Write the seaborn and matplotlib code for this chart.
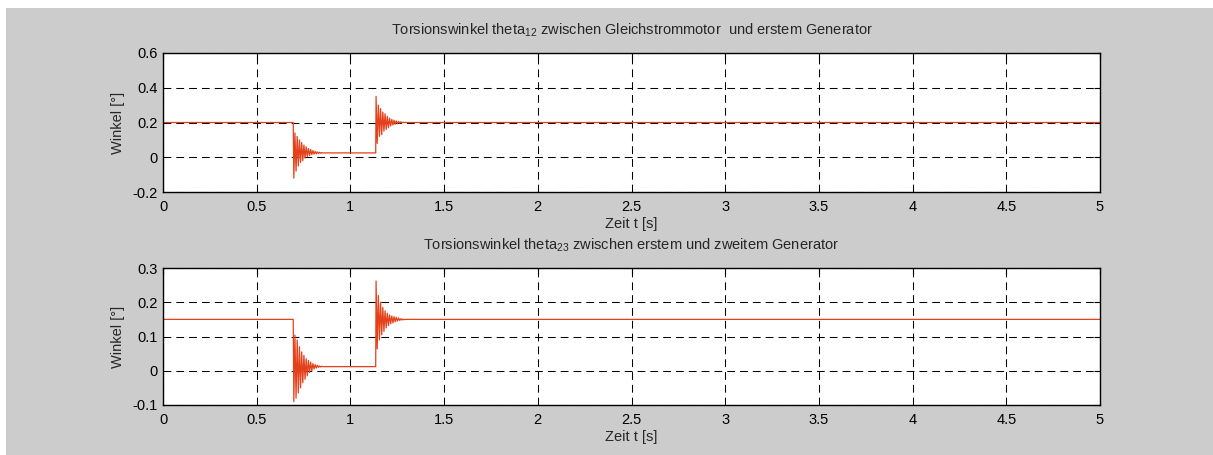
import matplotlib
matplotlib.use("Agg")
import matplotlib.pyplot as plt
from matplotlib.patches import Rectangle
import seaborn as sns

# ---- data ----
t = [0.0, 0.695,
     0.698, 0.704, 0.710, 0.716, 0.722, 0.728, 0.734, 0.740, 0.746, 0.752,
     0.758, 0.764, 0.770, 0.776, 0.782, 0.788, 0.794, 0.800, 0.806, 0.812,
     0.818, 0.824, 0.830, 0.836, 0.842, 0.848, 0.854, 0.860,
     1.133, 1.135,
     1.137, 1.143, 1.149, 1.155, 1.161, 1.167, 1.173, 1.179, 1.185, 1.191,
     1.197, 1.203, 1.209, 1.215, 1.221, 1.227, 1.233, 1.239, 1.245, 1.251,
     1.257, 1.263, 1.269, 1.275, 1.281, 1.287, 1.293, 1.299,
     5.0]

theta12 = [0.2, 0.2,
           -0.12, 0.14, -0.08, 0.12, -0.05, 0.10, -0.03, 0.085, -0.02, 0.07,
           -0.005, 0.06, 0.005, 0.05, 0.01, 0.045, 0.015, 0.038, 0.018, 0.034,
           0.02, 0.031, 0.021, 0.029, 0.023, 0.027, 0.024, 0.025,
           0.025, 0.025,
           0.35, 0.08, 0.30, 0.12, 0.28, 0.13, 0.26, 0.15, 0.25, 0.16,
           0.235, 0.17, 0.225, 0.18, 0.218, 0.185, 0.213, 0.19, 0.209, 0.193,
           0.206, 0.196, 0.204, 0.198, 0.202, 0.199, 0.201, 0.2,
           0.2]

theta23 = [0.15, 0.15,
           -0.09, 0.104, -0.08, 0.09, -0.065, 0.07, -0.05, 0.055, -0.035, 0.045,
           -0.025, 0.035, -0.015, 0.03, -0.005, 0.025, 0.0, 0.021, 0.005, 0.018,
           0.008, 0.016, 0.01, 0.014, 0.011, 0.013, 0.012, 0.012,
           0.012, 0.012,
           0.262, 0.064, 0.22, 0.09, 0.20, 0.105, 0.185, 0.115, 0.175, 0.125,
           0.168, 0.132, 0.163, 0.137, 0.16, 0.14, 0.158, 0.143, 0.156, 0.145,
           0.154, 0.147, 0.152, 0.148, 0.151, 0.149, 0.15, 0.15,
           0.15]

xticks = [0, 0.5, 1, 1.5, 2, 2.5, 3, 3.5, 4, 4.5, 5]
xticklabels = ["0", "0.5", "1", "1.5", "2", "2.5", "3", "3.5", "4", "4.5", "5"]
yticks12 = [-0.2, 0, 0.2, 0.4, 0.6]
yticklabels12 = ["-0.2", "0", "0.2", "0.4", "0.6"]
yticks23 = [-0.1, 0, 0.1, 0.2, 0.3]
yticklabels23 = ["-0.1", "0", "0.1", "0.2", "0.3"]

title12 = r"Torsionswinkel theta$_{12}$ zwischen Gleichstrommotor  und erstem Generator"
title23 = r"Torsionswinkel theta$_{23}$ zwischen erstem und zweitem Generator"
xlabel = "Zeit t [s]"
ylabel = "Winkel [°]"

# ---- style ----
sns.set_style("white")
plt.rcParams["font.family"] = ["Liberation Sans", "DejaVu Sans"]
plt.rcParams["mathtext.default"] = "regular"
FS = 10.5
plt.rcParams["font.size"] = FS

W, H = 1213, 455
fig = plt.figure(figsize=(W / 100, H / 100), dpi=100, facecolor="white")
fig.patches.append(Rectangle((6 / W, 0), 1, 1 - 8 / H, transform=fig.transFigure,
                             facecolor="#cccccc", edgecolor="none", zorder=-10))

line_color = "#e4401a"

def make_axes(rect, y, yticks, yticklabels, title):
    ax = fig.add_axes(rect)
    ax.set_facecolor("white")
    sns.lineplot(x=t, y=y, ax=ax, color=line_color, linewidth=0.9,
                 estimator=None, sort=False)
    ax.set_xlim(0, 5)
    ax.set_ylim(yticks[0], yticks[-1])
    ax.set_xticks(xticks)
    ax.set_xticklabels(xticklabels)
    ax.set_yticks(yticks)
    ax.set_yticklabels(yticklabels)
    ax.grid(True, color="black", linewidth=0.75, linestyle=(0, (7.5, 4.8)))
    ax.tick_params(direction="in", length=4, width=0.8, top=True, right=True,
                   colors="black", labelsize=FS)
    ax.tick_params(axis="x", pad=6)
    ax.tick_params(axis="y", pad=4)
    for s in ax.spines.values():
        s.set_visible(True)
        s.set_color("black")
        s.set_linewidth(1.0)
    ax.set_xlabel(xlabel, fontsize=FS, labelpad=2)
    ax.set_ylabel(ylabel, fontsize=FS, labelpad=5)
    ax.set_title(title, fontsize=FS, pad=13)
    return ax

ax1 = make_axes([163 / W, 1 - 192 / H, 937 / W, 139 / H], theta12,
                yticks12, yticklabels12, title12)
ax2 = make_axes([163 / W, 1 - 405 / H, 937 / W, 137 / H], theta23,
                yticks23, yticklabels23, title23)

fig.savefig("out.png", dpi=100, facecolor=fig.get_facecolor())
